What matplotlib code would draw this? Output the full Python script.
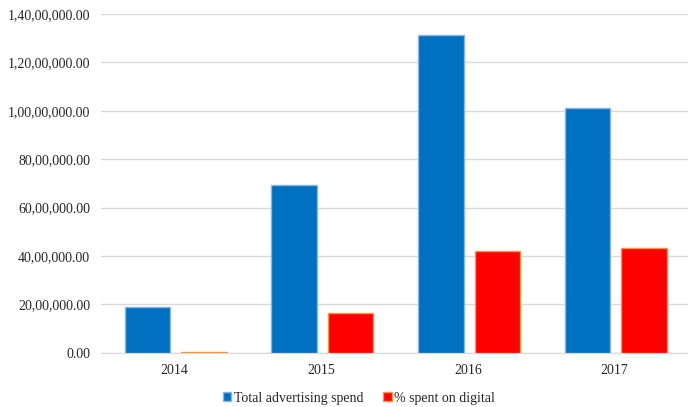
import matplotlib
matplotlib.use("Agg")
import matplotlib.pyplot as plt
from matplotlib.ticker import FuncFormatter, MultipleLocator
import numpy as np

years = ["2014", "2015", "2016", "2017"]
total_spend = [1900000, 6950000, 13130000, 10130000]
digital = [40000, 1650000, 4220000, 4340000]
series_names = ["Total advertising spend", "% spent on digital"]

plt.rcParams['font.family'] = ['Liberation Serif', 'DejaVu Serif']

def indian(v, pos=None):
    s = f"{v:.2f}"
    ip, dp = s.split(".")
    neg = ip.startswith("-")
    if neg:
        ip = ip[1:]
    if len(ip) > 3:
        last3 = ip[-3:]
        rest = ip[:-3]
        groups = []
        while len(rest) > 2:
            groups.insert(0, rest[-2:])
            rest = rest[:-2]
        if rest:
            groups.insert(0, rest)
        ip = ",".join(groups + [last3])
    return ("-" if neg else "") + ip + "." + dp

fig = plt.figure(figsize=(6.88, 4.07), dpi=100)
ax = fig.add_axes([0.147, 0.133, 0.853, 0.833])

x = np.arange(len(years))
w = 0.31
ax.bar(x - 0.185, total_spend, w, color="#0070C0", edgecolor="#8EB4E3", linewidth=1.0, zorder=3, label=series_names[0])
ax.bar(x + 0.200, digital, w, color="#FF0000", edgecolor="#F79646", linewidth=1.0, zorder=3, label=series_names[1])

ax.set_ylim(0, 14000000)
ax.set_xlim(-0.5, 3.5)
ax.yaxis.set_major_locator(MultipleLocator(2000000))
ax.yaxis.set_major_formatter(FuncFormatter(indian))
ax.set_xticks(x)
ax.set_xticklabels(years)
ax.grid(axis="y", color="#D9D9D9", linewidth=1.0, zorder=0)
for s in ["top", "right", "left"]:
    ax.spines[s].set_visible(False)
ax.spines["bottom"].set_color("#D9D9D9")
ax.tick_params(axis="both", length=0, labelsize=10, colors="#262626")
ax.tick_params(axis="y", pad=8)
ax.tick_params(axis="x", pad=8)

leg = fig.legend(loc="lower center", bbox_to_anchor=(0.522, -0.025), ncol=2, frameon=False,
                 fontsize=10, handlelength=0.6, handleheight=0.6, columnspacing=1.4, handletextpad=0.2)
for t in leg.get_texts():
    t.set_color("#262626")

fig.savefig("out.png", dpi=100)
